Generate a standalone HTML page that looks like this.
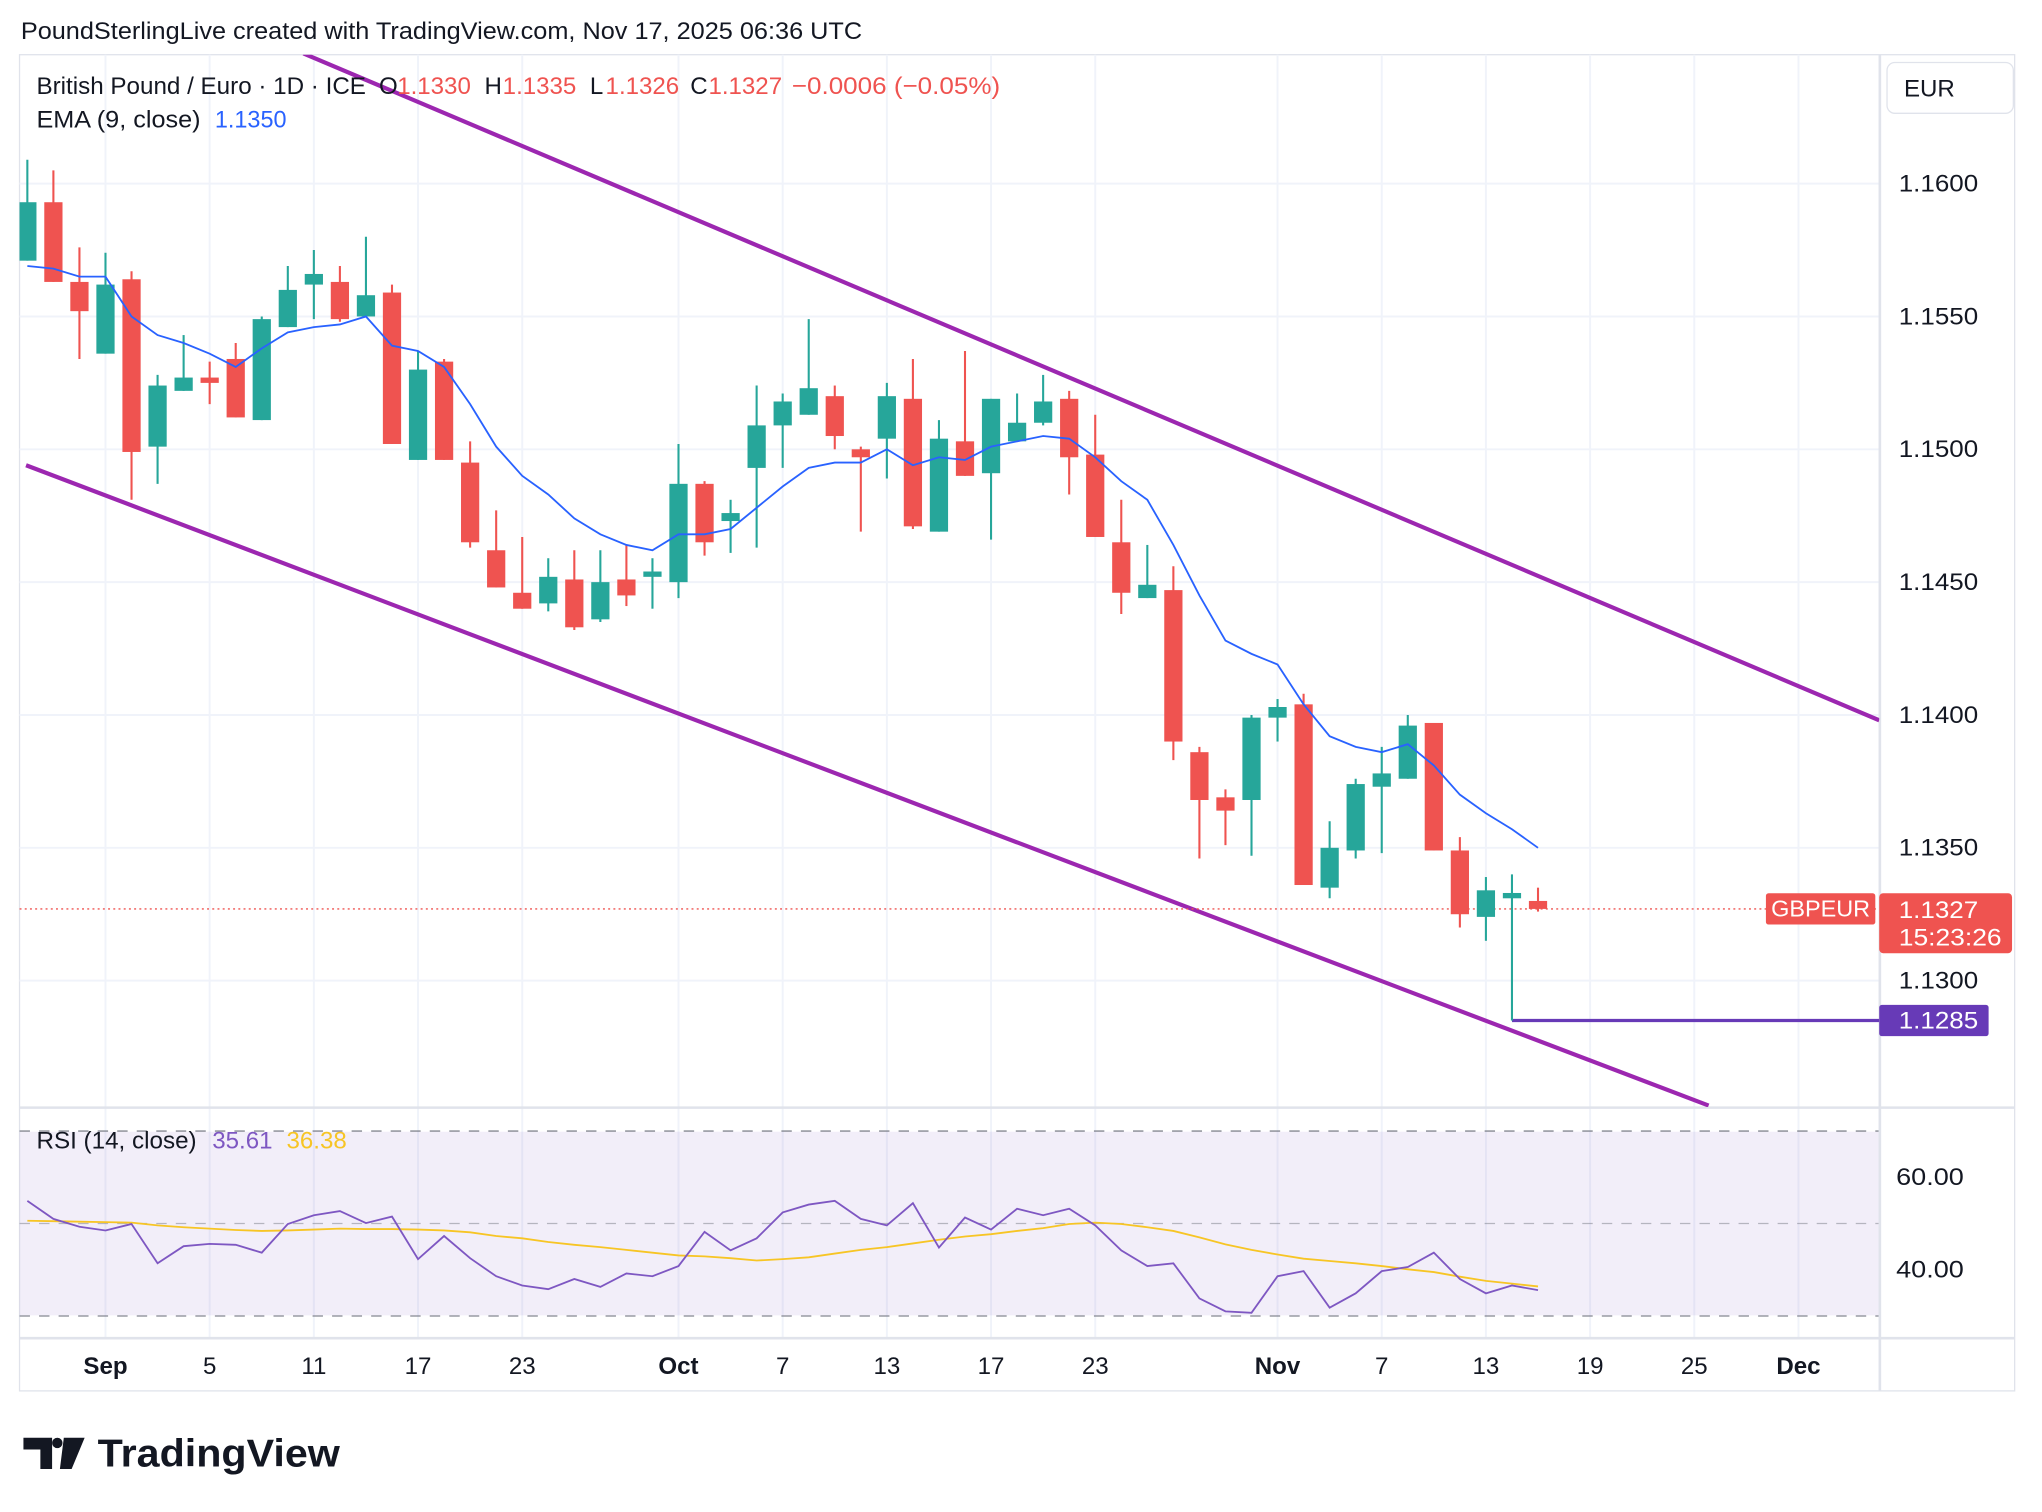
<!DOCTYPE html>
<html><head><meta charset="utf-8"><style>
html,body{margin:0;padding:0;background:#fff;}
svg{display:block;font-family:"Liberation Sans",Arial,sans-serif;}
</style></head><body>
<svg id="chart" width="2042" height="1512" viewBox="0 0 1568 1161" preserveAspectRatio="none" xmlns="http://www.w3.org/2000/svg">
<rect width="1568" height="1161" fill="#fff"/>
<text x="16" y="30" font-size="18.5" textLength="646" lengthAdjust="spacingAndGlyphs" fill="#131722">PoundSterlingLive created with TradingView.com, Nov 17, 2025 06:36 UTC</text>
<rect x="15" y="42" width="1532" height="1026" fill="none" stroke="#e0e3eb" stroke-width="1"/>
<g id="grid"></g>
<rect x="15" y="869" width="1428" height="141" fill="#7e57c2" fill-opacity="0.1"/>
<g id="rsiLines"></g>
<line x1="15" y1="850.5" x2="1547" y2="850.5" stroke="#e0e3eb" stroke-width="2"/>
<line x1="15" y1="1027.5" x2="1547" y2="1027.5" stroke="#e0e3eb" stroke-width="2"/>
<line x1="1443.5" y1="42" x2="1443.5" y2="1068" stroke="#e0e3eb" stroke-width="2"/>
<defs><clipPath id="mainClip"><rect x="15" y="42" width="1428" height="808"/></clipPath><clipPath id="rsiClip"><rect x="15" y="851" width="1428" height="176"/></clipPath></defs>
<g id="main" clip-path="url(#mainClip)"></g>
<g id="rsi" clip-path="url(#rsiClip)"></g>
<g id="axes"></g>
<text y="72" font-size="18.5" fill="#131722"><tspan x="28" textLength="253" lengthAdjust="spacingAndGlyphs">British Pound / Euro · 1D · ICE</tspan><tspan x="291">O</tspan><tspan x="305" fill="#ef5350">1.1330</tspan><tspan x="372">H</tspan><tspan x="386" fill="#ef5350">1.1335</tspan><tspan x="453">L</tspan><tspan x="465" fill="#ef5350">1.1326</tspan><tspan x="530">C</tspan><tspan x="544" fill="#ef5350">1.1327</tspan><tspan x="608" fill="#ef5350" textLength="160" lengthAdjust="spacingAndGlyphs">−0.0006 (−0.05%)</tspan></text>
<text y="98" font-size="18.5" fill="#131722"><tspan x="28" textLength="126" lengthAdjust="spacingAndGlyphs">EMA (9, close)</tspan><tspan x="165" fill="#2962ff" textLength="55" lengthAdjust="spacingAndGlyphs">1.1350</tspan></text>
<text y="882" font-size="18.5" fill="#131722"><tspan x="28" textLength="123" lengthAdjust="spacingAndGlyphs">RSI (14, close)</tspan><tspan x="163" fill="#7e57c2">35.61</tspan><tspan x="220" fill="#f7c525">36.38</tspan></text>
<g><rect x="1449" y="48" width="97" height="39" rx="6" fill="#fff" stroke="#e0e3eb"/><text x="1462" y="74" font-size="18.5" fill="#131722">EUR</text></g>
<g>
<path d="M18 1104h22v24h-9v-15h-13z M49 1104h16l-10 24h-9z" fill="#131722"/><circle cx="44" cy="1108" r="4" fill="#131722"/>
<text x="75" y="1126" font-size="30" font-weight="bold" fill="#131722" textLength="186" lengthAdjust="spacingAndGlyphs">TradingView</text></g>
</svg>
<script>
const opens=[1.1571,1.1593,1.1563,1.1536,1.1564,1.1501,1.1522,1.1527,1.1534,1.1511,1.1546,1.1562,1.1563,1.1550,1.1559,1.1496,1.1533,1.1495,1.1462,1.1446,1.1442,1.1451,1.1436,1.1451,1.1452,1.1450,1.1487,1.1473,1.1493,1.1509,1.1513,1.1520,1.1500,1.1504,1.1519,1.1469,1.1503,1.1491,1.1503,1.1510,1.1519,1.1498,1.1465,1.1444,1.1447,1.1386,1.1369,1.1368,1.1399,1.1404,1.1335,1.1349,1.1373,1.1376,1.1397,1.1349,1.1324,1.1331,1.1330];
const highs=[1.1609,1.1605,1.1576,1.1574,1.1567,1.1528,1.1543,1.1533,1.1540,1.1550,1.1569,1.1575,1.1569,1.1580,1.1562,1.1537,1.1534,1.1503,1.1477,1.1467,1.1459,1.1462,1.1462,1.1464,1.1459,1.1502,1.1488,1.1481,1.1524,1.1521,1.1549,1.1524,1.1501,1.1525,1.1534,1.1511,1.1537,1.1519,1.1521,1.1528,1.1522,1.1513,1.1481,1.1464,1.1456,1.1388,1.1372,1.1400,1.1406,1.1408,1.1360,1.1376,1.1388,1.1400,1.1397,1.1354,1.1339,1.1340,1.1335];
const lows=[1.1571,1.1563,1.1534,1.1536,1.1481,1.1487,1.1522,1.1517,1.1512,1.1511,1.1546,1.1549,1.1548,1.1550,1.1502,1.1496,1.1496,1.1463,1.1448,1.1440,1.1439,1.1432,1.1435,1.1441,1.1440,1.1444,1.1460,1.1461,1.1463,1.1493,1.1513,1.1500,1.1469,1.1489,1.1470,1.1469,1.1490,1.1466,1.1503,1.1509,1.1483,1.1467,1.1438,1.1444,1.1383,1.1346,1.1351,1.1347,1.1390,1.1336,1.1331,1.1346,1.1348,1.1376,1.1349,1.1320,1.1315,1.1285,1.1326];
const closes=[1.1593,1.1563,1.1552,1.1562,1.1499,1.1524,1.1527,1.1525,1.1512,1.1549,1.1560,1.1566,1.1549,1.1558,1.1502,1.1530,1.1496,1.1465,1.1448,1.1440,1.1452,1.1433,1.1450,1.1445,1.1454,1.1487,1.1465,1.1476,1.1509,1.1518,1.1523,1.1505,1.1497,1.1520,1.1471,1.1504,1.1490,1.1519,1.1510,1.1518,1.1497,1.1467,1.1446,1.1449,1.1390,1.1368,1.1364,1.1399,1.1403,1.1336,1.1350,1.1374,1.1378,1.1396,1.1349,1.1325,1.1334,1.1333,1.1327];
const emaValues=[1.1569,1.1568,1.1565,1.1565,1.1550,1.1543,1.1540,1.1536,1.1531,1.1538,1.1544,1.1546,1.1547,1.1550,1.1539,1.1537,1.1531,1.1517,1.1501,1.1490,1.1483,1.1474,1.1468,1.1464,1.1462,1.1468,1.1468,1.1470,1.1478,1.1486,1.1493,1.1495,1.1495,1.1500,1.1494,1.1497,1.1496,1.1501,1.1503,1.1505,1.1504,1.1497,1.1488,1.1481,1.1464,1.1445,1.1428,1.1423,1.1419,1.1404,1.1392,1.1388,1.1386,1.1389,1.1381,1.1370,1.1363,1.1357,1.1350];
const rsiValues=[54.9,51.0,49.3,48.5,49.9,41.4,45.1,45.6,45.4,43.7,49.9,51.8,52.7,50.1,51.5,42.3,47.3,42.5,38.6,36.6,35.8,38.0,36.3,39.2,38.6,40.8,48.2,44.2,46.8,52.4,54.1,54.9,51.0,49.6,54.4,44.8,51.3,48.7,53.2,51.8,53.2,49.6,44.2,40.8,41.4,33.8,31.0,30.7,38.6,39.7,31.8,34.9,39.7,40.6,43.7,38.0,34.9,36.6,35.6];
const rsiMaValues=[50.6,50.5,50.4,50.3,50.2,49.6,49.2,48.9,48.6,48.4,48.5,48.7,48.9,48.8,48.8,48.7,48.5,48.1,47.3,46.8,46.0,45.4,44.9,44.3,43.7,43.1,42.9,42.5,42.0,42.3,42.7,43.5,44.3,44.9,45.7,46.5,47.2,47.7,48.4,49.0,49.9,50.2,49.9,49.2,48.4,47.0,45.5,44.3,43.3,42.4,41.9,41.4,40.8,40.1,39.5,38.5,37.6,37.0,36.4];
const priceTicks=[1.1600,1.1550,1.1500,1.1450,1.1400,1.1350,1.1300];
const rsiTicks=[60,40];
const dateLabels=["Sep","5","11","17","23","Oct","7","13","17","23","Nov","7","13","19","25","Dec"];
const dateBarIdx=[3,7,11,15,19,25,29,33,37,41,48,52,56,60,64,68];
const lastPrice=1.1327, lowMark=1.1285;
const upperTrend=[[10.6,1.1649],[71.1,1.1398]];
const lowerTrend=[[-0.05,1.1494],[64.55,1.1253]];

const NS="http://www.w3.org/2000/svg";
const xScale=i=>21+20*i;
const yScale=p=>141+(1.16-p)*20400;
const rScale=v=>904+(60-v)*3.55;
function mk(tag,attrs,parent){const e=document.createElementNS(NS,tag);for(const k in attrs)e.setAttribute(k,attrs[k]);parent.appendChild(e);return e;}
const main=document.getElementById('main'),grid=document.getElementById('grid'),axes=document.getElementById('axes'),rsi=document.getElementById('rsi'),rl=document.getElementById('rsiLines');

priceTicks.forEach(p=>{const y=yScale(p);
 const g=mk('line',{x1:15,x2:1443,y1:y,y2:y,stroke:'#f0f3fa','stroke-width':1.5},grid);
 
 
 const t=mk('text',{x:1458,y:y+6,'font-size':18.5,fill:'#131722',textLength:61,lengthAdjust:'spacingAndGlyphs'},axes);t.textContent=p.toFixed(4);
 
 });
dateLabels.forEach((d,k)=>{const x=xScale(dateBarIdx[k]);
 const g=mk('line',{x1:x,x2:x,y1:42,y2:1027,stroke:'#f0f3fa','stroke-width':1.5},grid);
 
 
 const bold=/^[A-Z]/.test(d);
 const t=mk('text',{x:x,y:1055,'font-size':18.5,'text-anchor':'middle',fill:'#131722','font-weight':bold?'bold':'normal'},axes);t.textContent=d;
 
 });
rsiTicks.forEach(v=>{const t=mk('text',{x:1456,y:rScale(v)+6,'font-size':18.5,fill:'#131722',textLength:52,lengthAdjust:'spacingAndGlyphs'},axes);t.textContent=v.toFixed(2);
 
 });
[70,50,30].forEach(v=>{const l=mk('line',{x1:15,x2:1443,y1:rScale(v),y2:rScale(v),stroke:'#787b86','stroke-width':1,'stroke-dasharray':'8,7','stroke-opacity':v===50?0.5:0.9},rl);
 
 });

[upperTrend,lowerTrend].forEach((t,k)=>{const l=mk('line',{x1:xScale(t[0][0]),y1:yScale(t[0][1]),x2:xScale(t[1][0]),y2:yScale(t[1][1]),stroke:'#9c27b0','stroke-width':3.2},main);
 
 });
const pl=mk('line',{x1:15,x2:1443,y1:yScale(lastPrice),y2:yScale(lastPrice),stroke:'#ef5350','stroke-width':1,'stroke-dasharray':'1.5,2.5'},main);


const hl=mk('line',{x1:xScale(closes.length-2),x2:1443,y1:yScale(lowMark),y2:yScale(lowMark),stroke:'#673ab7','stroke-width':2.5},main);



closes.forEach((c,i)=>{const o=opens[i],up=c>=o,col=up?'#26a69a':'#ef5350',x=xScale(i);
 const g=mk('g',{},main);
 
 
 mk('line',{x1:x,x2:x,y1:yScale(highs[i]),y2:yScale(lows[i]),stroke:col,'stroke-width':1.6},g);
 const top=yScale(Math.max(o,c)),bot=yScale(Math.min(o,c));
 mk('rect',{x:x-7,y:top,width:14,height:Math.max(bot-top,1.5),fill:col},g);});
const ema=mk('polyline',{points:emaValues.map((v,i)=>xScale(i)+','+yScale(v)).join(' '),fill:'none',stroke:'#2962ff','stroke-width':1.4},main);


const rm=mk('polyline',{points:rsiMaValues.map((v,i)=>xScale(i)+','+rScale(v)).join(' '),fill:'none',stroke:'#f7c525','stroke-width':1.4},rsi);


const rv=mk('polyline',{points:rsiValues.map((v,i)=>xScale(i)+','+rScale(v)).join(' '),fill:'none',stroke:'#7e57c2','stroke-width':1.4},rsi);



const ly=yScale(lastPrice);
const sb=mk('g',{},axes);


mk('rect',{x:1356,y:ly-12,width:84,height:24,rx:2,fill:'#ef5350'},sb);
const st=mk('text',{x:1398,y:ly+6,'font-size':18,'text-anchor':'middle',fill:'#fff'},sb);st.textContent='GBPEUR';
const pb=mk('g',{},axes);


mk('rect',{x:1443,y:ly-12,width:102,height:46,rx:3,fill:'#ef5350'},pb);
const pt=mk('text',{x:1458,y:ly+7,'font-size':18.5,fill:'#fff',textLength:61,lengthAdjust:'spacingAndGlyphs'},pb);pt.textContent=lastPrice.toFixed(4);
const ct=mk('text',{x:1458,y:ly+28,'font-size':18.5,fill:'#fff',textLength:79,lengthAdjust:'spacingAndGlyphs'},pb);ct.textContent='15:23:26';
const hy=yScale(lowMark);
const lb=mk('g',{},axes);


mk('rect',{x:1443,y:hy-12,width:84,height:24,rx:2,fill:'#673ab7'},lb);
const lt=mk('text',{x:1458,y:hy+6,'font-size':18.5,fill:'#fff',textLength:61,lengthAdjust:'spacingAndGlyphs'},lb);lt.textContent=lowMark.toFixed(4);
</script>
</body></html>
